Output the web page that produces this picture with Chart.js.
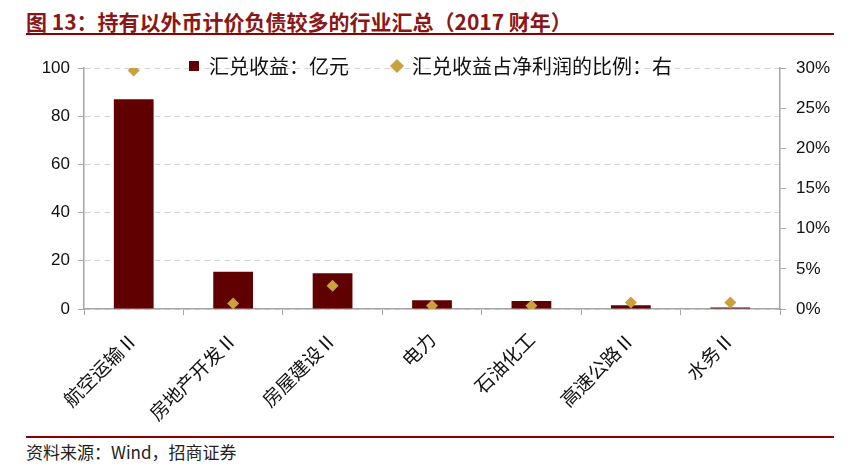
<!DOCTYPE html>
<html lang="zh">
<head>
<meta charset="UTF-8">
<script src="https://cdn.jsdelivr.net/npm/chart.js"></script>
<title>持有以外币计价负债较多的行业汇总</title>
<style>
  body { margin: 0; background: #fff; width: 861px; height: 468px; position: relative; overflow: hidden; }
  #title { position: absolute; left: 26px; top: 6px; font: bold 21px "Noto Sans CJK SC", sans-serif; color: #8b1616; white-space: nowrap; }
  .rule { position: absolute; left: 26px; width: 808px; height: 2px; background: #8b0000; }
  #source { position: absolute; left: 26px; top: 439px; font: 17px "Noto Sans CJK SC", sans-serif; color: #222; white-space: nowrap; }
  #box { position: absolute; left: 0; top: 40px; width: 861px; height: 392px; }
</style>
</head>
<body>
<div id="title">图 13：持有以外币计价负债较多的行业汇总（2017 财年）</div>
<div class="rule" style="top:33px"></div>
<div id="box"><canvas id="myChart"></canvas></div>
<div class="rule" style="top:436px"></div>
<div id="source">资料来源：Wind，招商证券</div>

<script>
const industries = ['航空运输Ⅱ', '房地产开发Ⅱ', '房屋建设Ⅱ', '电力', '石油化工', '高速公路Ⅱ', '水务Ⅱ'];
const fxGain = [87.0, 15.5, 14.8, 3.6, 3.3, 1.6, 0.6];          // 亿元
const fxGainShare = [0.297, 0.007, 0.029, 0.004, 0.004, 0.008, 0.008]; // 占净利润比例

// let the legend overlap the top of the plot (it sits on the 100 gridline)
const squeezeLegend = {
    id: 'squeezeLegend',
    beforeLayout(chart) {
        const lg = chart.legend;
        if (!lg || lg._squeezed) return;
        const fit = lg.fit.bind(lg);
        lg.fit = function () { fit(); this._fullHeight = this.height; this.height = 15; };
        lg._squeezed = true;
    },
    afterLayout(chart) {
        // legend clips to its own box, so give it back its full height for drawing
        const lg = chart.legend;
        lg.height = lg._fullHeight + 4;
        lg.bottom = lg.top + lg.height;
    }
};

const gray = '#a6a6a6';

new Chart(document.getElementById('myChart'), {
    data: {
        labels: industries,
        datasets: [{
            type: 'bar',
            label: '汇兑收益：亿元\u3000\u3000',
            data: fxGain,
            backgroundColor: '#600000',
            pointStyle: 'rect',
            yAxisID: 'y',
            categoryPercentage: 1,
            barPercentage: 0.4,
            order: 2
        }, {
            type: 'line',
            label: '汇兑收益占净利润的比例：右',
            data: fxGainShare,
            yAxisID: 'y1',
            showLine: false,
            pointStyle: 'rectRot',
            pointRadius: 6,
            pointBorderWidth: 0,
            backgroundColor: '#c9a13f',
            borderColor: '#c9a13f',
            order: 1
        }]
    },
    options: {
        responsive: true,
        maintainAspectRatio: false,
        animation: false,
        layout: { padding: { top: 13, left: 0, right: 0, bottom: 0 } },
        plugins: {
            legend: {
                position: 'top',
                align: 'center',
                labels: {
                    usePointStyle: true,
                    boxWidth: 10,
                    boxHeight: 10,
                    padding: 3,
                    color: '#111',
                    font: { family: '"Noto Sans CJK SC"', size: 20 },
                    sort: (a, b) => a.datasetIndex - b.datasetIndex
                }
            },
            tooltip: { enabled: false }
        },
        scales: {
            x: {
                grid: { display: true, drawOnChartArea: false, tickLength: 6, tickColor: gray, offset: true },
                border: { color: gray, width: 1.5 },
                ticks: {
                    autoSkip: false, minRotation: 45, maxRotation: 45, padding: 13,
                    color: '#111',
                    font: { family: '"Noto Sans CJK SC"', size: 19 }
                },
                afterFit(scale) { scale.height = 123; }
            },
            y: {
                position: 'left',
                min: 0, max: 100,
                ticks: { stepSize: 20, padding: 8, color: '#111', font: { family: '"Liberation Sans"', size: 17 } },
                grid: { color: '#d4d4d4', tickColor: gray, tickLength: 6, lineWidth: 1 },
                border: { color: gray, width: 1.5, dash: [6, 4] },
                afterFit(scale) { scale.width = 84; }
            },
            y1: {
                position: 'right',
                min: 0, max: 0.3,
                ticks: {
                    stepSize: 0.05, padding: 10, color: '#111',
                    font: { family: '"Liberation Sans"', size: 17 },
                    callback: v => Math.round(v * 100) + '%'
                },
                grid: { drawOnChartArea: false, tickColor: gray, tickLength: 6 },
                border: { color: gray, width: 1.5 },
                afterFit(scale) { scale.width = 81; }
            }
        }
    },
    plugins: [squeezeLegend]
});
</script>
</body>
</html>
